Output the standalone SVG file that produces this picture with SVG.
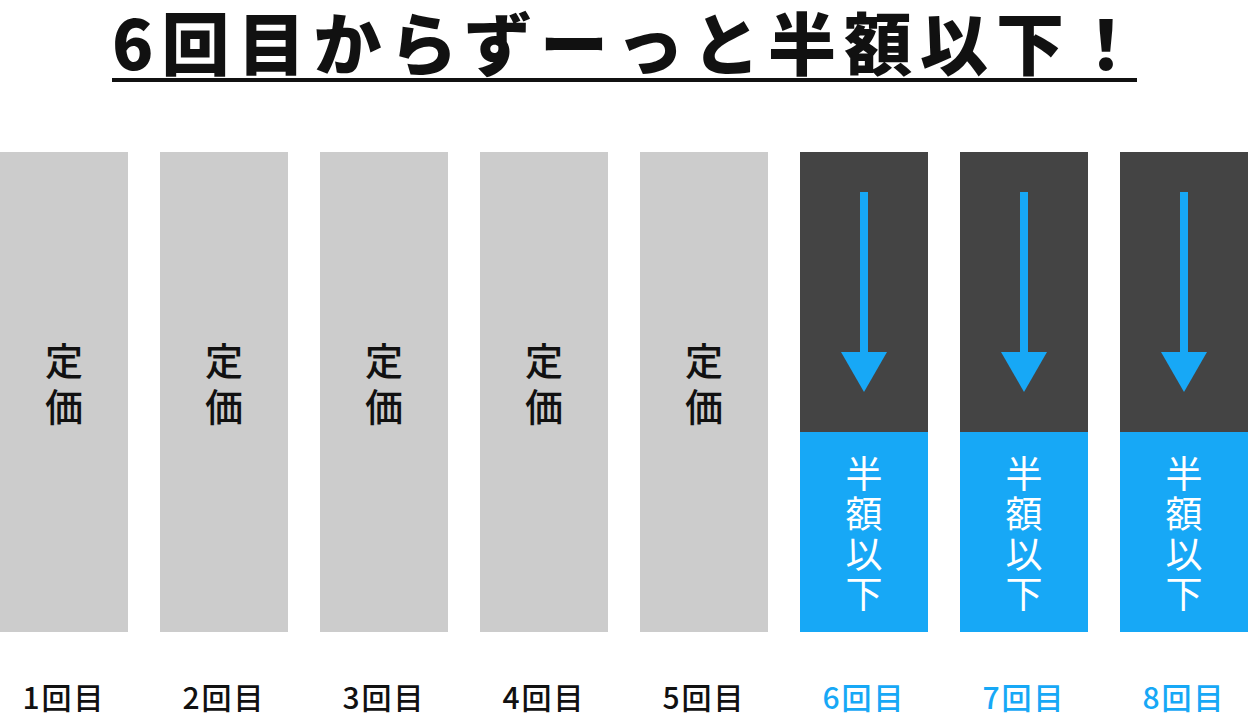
<svg xmlns="http://www.w3.org/2000/svg" width="1248" height="728" viewBox="0 0 1248 728">
<style>
.t{font-family:"Noto Sans CJK JP","Noto Sans",sans-serif}
.title{font-size:68px;font-weight:900;fill:#111;letter-spacing:8px}
.gray{fill:#cccccc}
.dark{fill:#444444}
.blue{fill:#17a8f6}
.teika{font-size:38px;font-weight:500;fill:#111;text-anchor:middle}
.han{font-size:37px;font-weight:400;fill:#fff;text-anchor:middle}
.lbl{font-size:30px;font-weight:500;text-anchor:middle;letter-spacing:2px}
</style>
<defs>
<g id="arrow"><rect x="-4" y="192" width="8" height="165" class="blue"/><polygon points="-23,352 23,352 0,392" class="blue"/></g>
</defs>
<rect width="1248" height="728" fill="#fff"/>
<g id="title">
<text class="t title" x="112" y="70">6回目からずーっと半額以下！</text>
<rect x="112" y="78" width="1025" height="4" fill="#111"/>
</g>
<g id="bar1"><rect x="0" y="152" width="128" height="480" class="gray"/><text class="t teika" x="64" y="375">定</text><text class="t teika" x="64" y="421">価</text><text class="t lbl" x="64" y="709" fill="#111">1回目</text></g>
<g id="bar2"><rect x="160" y="152" width="128" height="480" class="gray"/><text class="t teika" x="224" y="375">定</text><text class="t teika" x="224" y="421">価</text><text class="t lbl" x="224" y="709" fill="#111">2回目</text></g>
<g id="bar3"><rect x="320" y="152" width="128" height="480" class="gray"/><text class="t teika" x="384" y="375">定</text><text class="t teika" x="384" y="421">価</text><text class="t lbl" x="384" y="709" fill="#111">3回目</text></g>
<g id="bar4"><rect x="480" y="152" width="128" height="480" class="gray"/><text class="t teika" x="544" y="375">定</text><text class="t teika" x="544" y="421">価</text><text class="t lbl" x="544" y="709" fill="#111">4回目</text></g>
<g id="bar5"><rect x="640" y="152" width="128" height="480" class="gray"/><text class="t teika" x="704" y="375">定</text><text class="t teika" x="704" y="421">価</text><text class="t lbl" x="704" y="709" fill="#111">5回目</text></g>
<g id="bar6"><rect x="800" y="152" width="128" height="280" class="dark"/><rect x="800" y="432" width="128" height="200" class="blue"/><text class="t han" x="864" y="488">半</text><text class="t han" x="864" y="528">額</text><text class="t han" x="864" y="568">以</text><text class="t han" x="864" y="608">下</text><text class="t lbl" x="864" y="709" fill="#17a8f6">6回目</text></g>
<g id="bar7"><rect x="960" y="152" width="128" height="280" class="dark"/><rect x="960" y="432" width="128" height="200" class="blue"/><text class="t han" x="1024" y="488">半</text><text class="t han" x="1024" y="528">額</text><text class="t han" x="1024" y="568">以</text><text class="t han" x="1024" y="608">下</text><text class="t lbl" x="1024" y="709" fill="#17a8f6">7回目</text></g>
<g id="bar8"><rect x="1120" y="152" width="128" height="280" class="dark"/><rect x="1120" y="432" width="128" height="200" class="blue"/><text class="t han" x="1184" y="488">半</text><text class="t han" x="1184" y="528">額</text><text class="t han" x="1184" y="568">以</text><text class="t han" x="1184" y="608">下</text><text class="t lbl" x="1184" y="709" fill="#17a8f6">8回目</text></g>
<g id="connectors">
<use href="#arrow" x="864"/>
<use href="#arrow" x="1024"/>
<use href="#arrow" x="1184"/>
</g>
</svg>
